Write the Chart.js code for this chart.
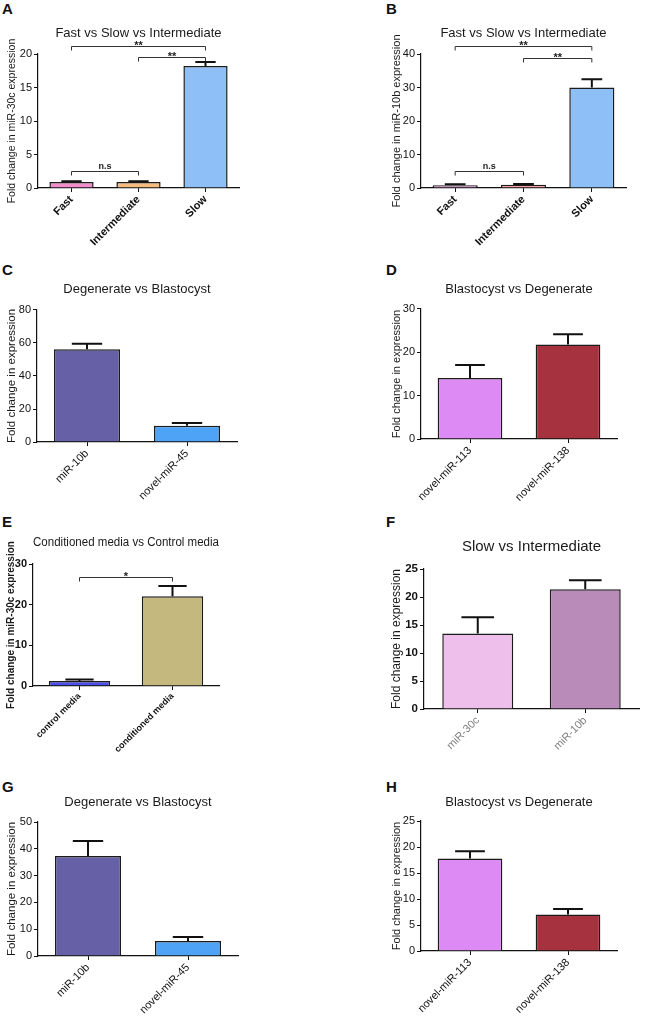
<!DOCTYPE html>
<html>
<head>
<meta charset="utf-8">
<script src="https://cdn.jsdelivr.net/npm/chart.js@4.4.1/dist/chart.umd.min.js"></script>
<style>
  html, body { margin:0; padding:0; background:#fff; }
  body { width:648px; height:1019px; position:relative; overflow:hidden; font-family:'Liberation Sans', Arial, sans-serif; }
  canvas { position:absolute; }
  .lbl { position:absolute; font:bold 15px 'Liberation Sans', Arial, sans-serif; line-height:15px; color:#111; }
</style>
</head>
<body>
<div class="lbl" style="left:2px;top:1px">A</div>
<div class="lbl" style="left:386px;top:1px">B</div>
<div class="lbl" style="left:2px;top:262px">C</div>
<div class="lbl" style="left:386px;top:262px">D</div>
<div class="lbl" style="left:2px;top:514px">E</div>
<div class="lbl" style="left:386px;top:514px">F</div>
<div class="lbl" style="left:2px;top:779px">G</div>
<div class="lbl" style="left:386px;top:779px">H</div>

<canvas id="cA"></canvas><canvas id="cB"></canvas>
<canvas id="cC"></canvas><canvas id="cD"></canvas>
<canvas id="cE"></canvas><canvas id="cF"></canvas>
<canvas id="cG"></canvas><canvas id="cH"></canvas>

<script>
// ---------------- DATA ----------------
const titleA = 'Fast vs Slow vs Intermediate';
const yTitleA = 'Fold change in miR-30c expression';
const catsA = ['Fast', 'Intermediate', 'Slow'];
const valsA = [0.9, 0.9, 18.2];
const errsA = [0.1, 0.1, 0.6];
const yMaxA = 20, yStepA = 5;
const bracketsA = [[0, 2, 21.2, '**'], [1, 2, 19.6, '**'], [0, 1, 2.5, 'n.s']];

const titleB = 'Fast vs Slow vs Intermediate';
const yTitleB = 'Fold change in miR-10b expression';
const catsB = ['Fast', 'Intermediate', 'Slow'];
const valsB = [0.8, 1.0, 30.0];
const errsB = [0.3, 0.2, 2.5];
const yMaxB = 40, yStepB = 10;
const bracketsB = [[0, 2, 42.4, '**'], [1, 2, 38.8, '**'], [0, 1, 5.1, 'n.s']];

const titleC = 'Degenerate vs Blastocyst';
const yTitleC = 'Fold change in expression';
const catsC = ['miR-10b', 'novel-miR-45'];
const valsC = [56.2, 9.8];
const errsC = [3.3, 1.7];
const yMaxC = 80, yStepC = 20;

const titleD = 'Blastocyst vs Degenerate';
const yTitleD = 'Fold change in expression';
const catsD = ['novel-miR-113', 'novel-miR-138'];
const valsD = [14.1, 21.8];
const errsD = [3.0, 2.4];
const yMaxD = 30, yStepD = 10;

const titleE = 'Conditioned media vs Control media';
const yTitleE = 'Fold change in miR-30c expression';
const catsE = ['control media', 'conditioned media'];
const valsE = [1.2, 22.1];
const errsE = [0.4, 2.5];
const yMaxE = 30, yStepE = 10;
const bracketsE = [[0, 1, 26.8, '*']];

const titleF = 'Slow vs Intermediate';
const yTitleF = 'Fold change in expression';
const catsF = ['miR-30c', 'miR-10b'];
const valsF = [13.5, 21.4];
const errsF = [2.9, 1.6];
const yMaxF = 25, yStepF = 5;

const titleG = 'Degenerate vs Blastocyst';
const yTitleG = 'Fold change in expression';
const catsG = ['miR-10b', 'novel-miR-45'];
const valsG = [37.3, 5.6];
const errsG = [5.6, 1.5];
const yMaxG = 50, yStepG = 10;

const titleH = 'Blastocyst vs Degenerate';
const yTitleH = 'Fold change in expression';
const catsH = ['novel-miR-113', 'novel-miR-138'];
const valsH = [17.8, 7.0];
const errsH = [1.4, 1.1];
const yMaxH = 25, yStepH = 5;

// ---------------- STYLE / LAYOUT ----------------
const FONT = "'Liberation Sans', Arial, sans-serif";

const errorBarPlugin = {
  id: 'errorBars',
  afterDatasetsDraw(chart, args, opts) {
    const ctx = chart.ctx;
    const meta = chart.getDatasetMeta(0);
    const ys = chart.scales.y;
    const errs = opts.errs || [];
    const vals = chart.data.datasets[0].data;
    ctx.save();
    ctx.strokeStyle = '#111';
    ctx.lineWidth = 2;
    meta.data.forEach((bar, i) => {
      const top = ys.getPixelForValue(vals[i] + errs[i]);
      const half = bar.width * 0.23;
      ctx.beginPath();
      ctx.moveTo(bar.x, bar.y);
      ctx.lineTo(bar.x, top);
      ctx.moveTo(bar.x - half, top);
      ctx.lineTo(bar.x + half, top);
      ctx.stroke();
    });
    ctx.restore();
  }
};

const bracketPlugin = {
  id: 'brackets',
  afterDraw(chart, args, opts) {
    const items = opts.items || [];
    if (!items.length) return;
    const ctx = chart.ctx;
    const xs = chart.scales.x, ys = chart.scales.y;
    ctx.save();
    ctx.strokeStyle = '#333';
    ctx.lineWidth = 1;
    ctx.fillStyle = '#222';
    items.forEach(([a, b, v, lab]) => {
      const x1 = xs.getPixelForValue(a), x2 = xs.getPixelForValue(b);
      const y = Math.round(ys.getPixelForValue(v)) + 0.5;
      ctx.beginPath();
      ctx.moveTo(x1, y + 4); ctx.lineTo(x1, y); ctx.lineTo(x2, y); ctx.lineTo(x2, y + 4);
      ctx.stroke();
      const star = lab.indexOf('*') >= 0;
      ctx.font = (star ? 'bold 11px ' : 'bold 9px ') + FONT;
      ctx.textAlign = 'center';
      ctx.textBaseline = 'alphabetic';
      ctx.fillText(lab, (x1 + x2) / 2, star ? y + 2 : y - 3);
    });
    ctx.restore();
  }
};

function makePanel(id, P, D) {
  const cv = document.getElementById(id);
  cv.width = P.w; cv.height = P.h;
  cv.style.left = P.x + 'px'; cv.style.top = P.y + 'px';
  cv.style.width = P.w + 'px'; cv.style.height = P.h + 'px';
  const tlh = P.tSize * 1.2;
  const ylh = P.ySize * 1.2;
  const scaleLeft = P.yTitleX - ylh / 2;
  const xh = 95;
  const yWidth = P.L - scaleLeft;
  new Chart(cv, {
    type: 'bar',
    data: {
      labels: D.cats,
      datasets: [{
        data: D.vals,
        backgroundColor: P.colors,
        borderColor: '#1b1b1b',
        borderWidth: 1.5,
        borderSkipped: 'bottom',
        barPercentage: 0.66,
        categoryPercentage: 1.0
      }]
    },
    options: {
      responsive: false,
      animation: false,
      events: [],
      layout: {
        padding: {
          top: P.titleY - tlh / 2 - P.y,
          left: scaleLeft - P.x,
          right: P.x + P.w - P.R,
          bottom: P.y + P.h - P.B - xh
        }
      },
      plugins: {
        legend: { display: false },
        tooltip: { enabled: false },
        title: {
          display: true,
          text: D.title,
          fullSize: false,
          color: '#1a1a1a',
          font: { family: FONT, size: P.tSize, weight: 'normal' },
          padding: { top: 0, bottom: (P.T - P.titleY) - tlh / 2 }
        },
        errorBars: { errs: D.errs },
        brackets: { items: D.brackets || [] }
      },
      scales: {
        x: {
          afterFit(s) { s.height = xh; },
          grid: { display: true, offset: false, drawOnChartArea: false, drawTicks: true, tickLength: 4, color: '#111', lineWidth: 1 },
          border: { display: true, color: '#111', width: 1.2 },
          ticks: {
            autoSkip: false, minRotation: 45, maxRotation: 45, padding: 1,
            color: P.xColor || '#111',
            font: { family: FONT, size: P.xSize, weight: P.xWeight || 'normal' }
          }
        },
        y: {
          min: 0, max: D.yMax,
          afterFit(s) { s.width = yWidth; },
          grid: { display: true, drawOnChartArea: false, drawTicks: true, tickLength: 4, color: '#111', lineWidth: 1 },
          border: { display: true, color: '#111', width: 1.2 },
          ticks: {
            stepSize: D.yStep, padding: 2, color: '#111',
            font: { family: FONT, size: P.tickSize || 11, weight: P.tickWeight || 'normal' }
          },
          title: {
            display: true, text: D.yTitle, color: '#1a1a1a',
            padding: 0,
            font: { family: FONT, size: P.ySize, weight: P.yWeight || 'normal' }
          }
        }
      }
    },
    plugins: [errorBarPlugin, bracketPlugin]
  });
}

makePanel('cA', { x:0, y:0, w:324, h:300, L:38, T:54, R:239, B:188, titleY:33, tSize:13, yTitleX:12, ySize:10.5, xSize:11, xWeight:'bold',
  colors:['#F28DCB','#F7BC7E','#8EC0F7'] },
  { title:titleA, yTitle:yTitleA, cats:catsA, vals:valsA, errs:errsA, yMax:yMaxA, yStep:yStepA, brackets:bracketsA });

makePanel('cB', { x:324, y:0, w:324, h:300, L:421, T:54, R:626, B:188, titleY:33, tSize:13, yTitleX:397, ySize:11, xSize:11, xWeight:'bold',
  colors:['#E79BE0','#F7A3A6','#8EC0F7'] },
  { title:titleB, yTitle:yTitleB, cats:catsB, vals:valsB, errs:errsB, yMax:yMaxB, yStep:yStepB, brackets:bracketsB });

makePanel('cC', { x:0, y:250, w:324, h:300, L:37, T:310, R:237, B:442, titleY:289, tSize:13, yTitleX:12, ySize:11.5, xSize:11,
  colors:['#6660A6','#4FA3F7'] },
  { title:titleC, yTitle:yTitleC, cats:catsC, vals:valsC, errs:errsC, yMax:yMaxC, yStep:yStepC });

makePanel('cD', { x:324, y:250, w:324, h:300, L:421, T:309, R:617, B:439, titleY:289, tSize:13, yTitleX:397, ySize:11, xSize:11,
  colors:['#DE8AF5','#A5323E'] },
  { title:titleD, yTitle:yTitleD, cats:catsD, vals:valsD, errs:errsD, yMax:yMaxD, yStep:yStepD });

makePanel('cE', { x:0, y:500, w:324, h:300, L:33, T:564, R:219, B:686, titleY:543, tSize:12.5, yTitleX:11, ySize:10, yWeight:'bold',
  tickWeight:'bold', xSize:9, xWeight:'bold',
  colors:['#4B4EE8','#C4B87F'] },
  { title:titleE, yTitle:yTitleE, cats:catsE, vals:valsE, errs:errsE, yMax:yMaxE, yStep:yStepE, brackets:bracketsE });

makePanel('cF', { x:324, y:500, w:324, h:300, L:424, T:569, R:639, B:709, titleY:547, tSize:15, yTitleX:397, ySize:12,
  tickWeight:'bold', tickSize:11.5, xSize:11, xColor:'#808080',
  colors:['#EFBFEC','#B98BB9'] },
  { title:titleF, yTitle:yTitleF, cats:catsF, vals:valsF, errs:errsF, yMax:yMaxF, yStep:yStepF });

makePanel('cG', { x:0, y:760, w:324, h:300, L:38, T:822, R:238, B:956, titleY:802, tSize:13, yTitleX:12, ySize:11.5, xSize:11,
  colors:['#6660A6','#4FA3F7'] },
  { title:titleG, yTitle:yTitleG, cats:catsG, vals:valsG, errs:errsG, yMax:yMaxG, yStep:yStepG });

makePanel('cH', { x:324, y:760, w:324, h:300, L:421, T:821, R:617, B:951, titleY:802, tSize:13, yTitleX:397, ySize:11, xSize:11,
  colors:['#DE8AF5','#A5323E'] },
  { title:titleH, yTitle:yTitleH, cats:catsH, vals:valsH, errs:errsH, yMax:yMaxH, yStep:yStepH });
</script>
</body>
</html>
